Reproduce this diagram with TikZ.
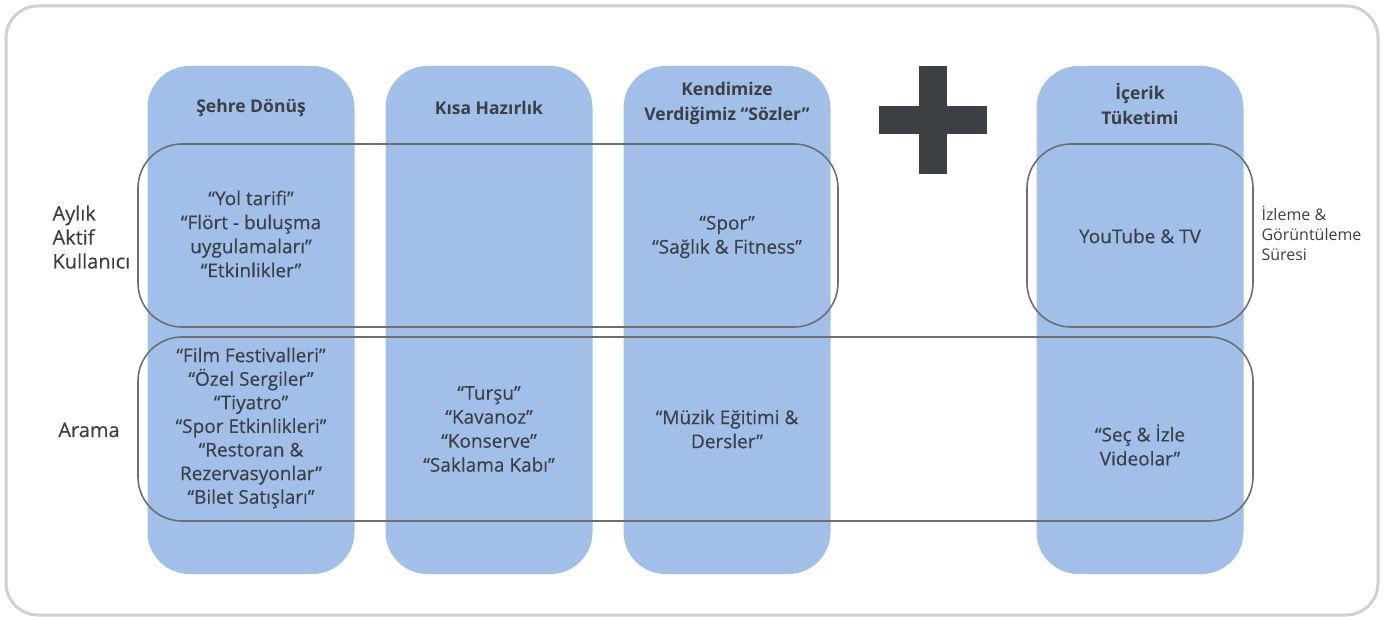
\documentclass[tikz,border=0pt]{standalone}
\usepackage{fontspec}
\setmainfont{Open Sans}
\newfontfamily\medfont[FakeBold=0.35]{Open Sans}
\definecolor{colblue}{HTML}{A2BFEA}
\definecolor{txt}{HTML}{3C4043}
\definecolor{outl}{HTML}{6E6E6E}
\definecolor{frame}{HTML}{D0D0D0}
\begin{document}
\begin{tikzpicture}[x=1pt,y=-1pt,
  colbox/.style={rectangle,fill=colblue,draw=none,rounded corners=42pt,minimum width=207pt,minimum height=508pt,inner sep=0pt},
  groupbox/.style={rectangle,draw=outl,line width=1.6pt,rounded corners=44pt,inner sep=0pt},
  body/.style={text=txt,align=center,font=\medfont\fontsize{19}{24}\selectfont},
  title/.style={text=txt,align=center,font=\bfseries\fontsize{17.5}{25}\selectfont},
  side/.style={text=txt,align=left,font=\medfont\fontsize{20}{24}\selectfont},
  sidesmall/.style={text=txt,align=left,font=\fontsize{16}{20}\selectfont},
  plusbar/.style={fill=txt,draw=none,inner sep=0pt}]
\useasboundingbox (0,0) rectangle (1395,617);
\draw[frame,line width=3pt,rounded corners=32pt] (6,6) rectangle (1378,615);

\node[colbox] (c1) at (251,320) {};
\node[colbox] (c2) at (489,320) {};
\node[colbox] (c3) at (727,320) {};
\node[colbox] (c4) at (1140,320) {};

\node[groupbox,minimum width=700pt,minimum height=183pt] (gtop) at (488,235.5) {};
\node[groupbox,minimum width=226pt,minimum height=183pt] (gyt) at (1140,235.5) {};
\node[groupbox,minimum width=1115pt,minimum height=184pt] (gbot) at (695.5,429) {};

% plus sign
\node[plusbar,minimum width=28pt,minimum height=108pt] (pv) at (933,120) {};
\node[plusbar,minimum width=108pt,minimum height=28pt] (ph) at (933,120) {};

\node[title] (t1) at (251,108) {Şehre Dönüş};
\node[title] (t2) at (489,108) {Kısa Hazırlık};
\node[title] (t3) at (727,103) {Kendimize\\Verdiğimiz “Sözler”};
\node[title] (t4) at (1140,104) {İçerik\\Tüketimi};

\node[body] (b1) at (251,234) {“Yol tarifi”\\“Flört - buluşma\\uygulamaları”\\“Etkinlikler”};
\node[body] (b3) at (727,237) {“Spor”\\“Sağlık \& Fitness”};
\node[body] (b4) at (1140,236) {YouTube \& TV};

\node[body,font=\medfont\fontsize{19}{23.6}\selectfont] (d1) at (251,428) {“Film Festivalleri”\\“Özel Sergiler”\\“Tiyatro”\\“Spor Etkinlikleri”\\“Restoran \&\\Rezervasyonlar”\\“Bilet Satışları”};
\node[body] (d2) at (489,429) {“Turşu”\\“Kavanoz”\\“Konserve”\\“Saklama Kabı”};
\node[body] (d3) at (727,429) {“Müzik Eğitimi \&\\Dersler”};
\node[body] (d4) at (1140,445) {“Seç \& İzle\\Videolar”};

\node[side,anchor=west] (l1) at (49,237) {Aylık\\Aktif\\Kullanıcı};
\node[side] (l2) at (89,430) {Arama};
\node[sidesmall,anchor=west] (r1) at (1258,233) {İzleme \&\\Görüntüleme\\Süresi};
\end{tikzpicture}
\end{document}
